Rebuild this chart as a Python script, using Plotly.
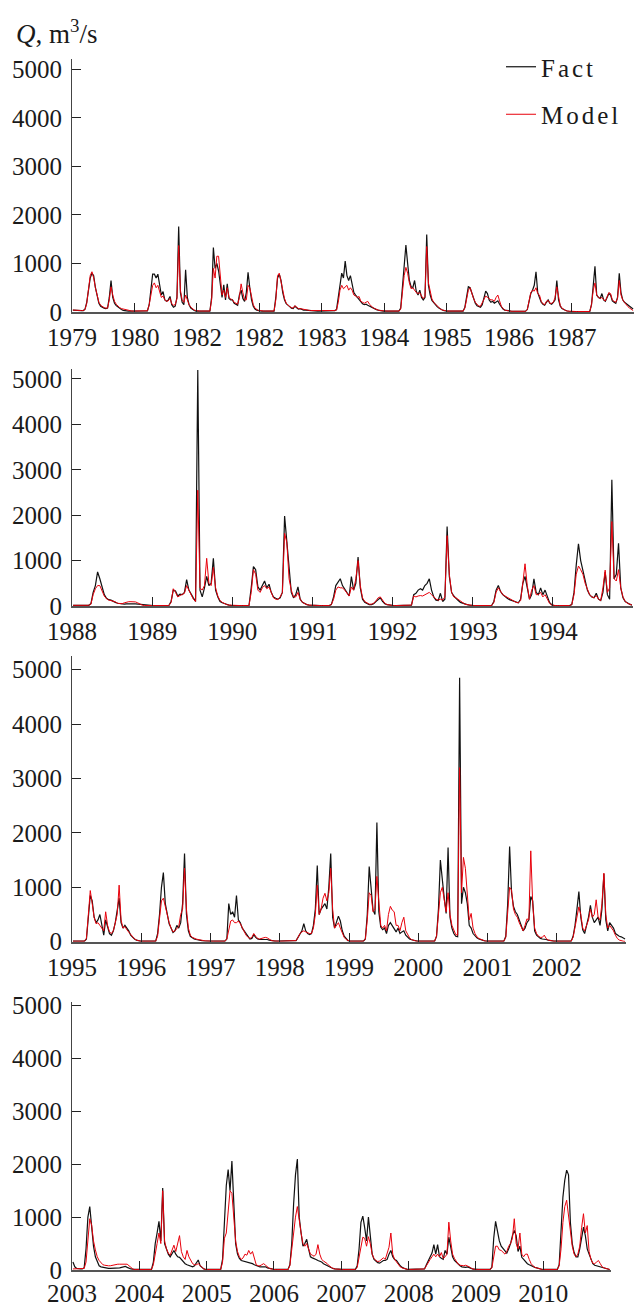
import plotly.graph_objects as go

# ---------------- data: dekadal (36 per year) discharge, m3/s ----------------
fact_1979 = [40,35,30,30,30,30,30,60,200,450,700,800,750,500,300,180,120,90,80,70,80,300,650,300,180,130,100,70,50,35,25,20,20,20,20,20]
model_1979 = [40,35,30,30,30,30,30,50,180,450,750,830,700,500,320,200,140,110,90,80,80,250,520,350,220,160,120,90,70,60,50,40,30,25,20,20]
fact_1980 = [20,20,20,20,20,20,20,25,150,450,780,780,700,780,600,350,420,250,220,250,320,150,100,120,300,1760,400,200,150,870,300,150,80,50,30,20]
model_1980 = [20,20,20,20,20,20,20,25,150,400,550,600,500,550,420,300,330,250,220,230,280,170,140,150,280,1370,450,250,200,350,250,150,100,60,40,30]
fact_1981 = [20,20,20,20,20,20,20,20,300,1330,900,1000,850,600,300,560,250,580,280,250,250,180,150,140,350,450,280,220,400,820,500,250,120,60,40,25]
model_1981 = [20,20,20,20,20,20,20,20,250,900,700,1150,1150,650,350,450,300,500,300,270,250,200,170,160,300,580,400,250,250,550,500,300,150,80,50,30]
fact_1982 = [25,20,20,20,20,20,20,20,20,300,700,780,650,400,250,170,130,110,80,70,120,80,60,70,50,40,40,35,30,30,25,25,20,20,20,20]
model_1982 = [30,20,20,20,20,20,20,20,20,250,750,800,620,420,280,180,140,110,90,80,130,90,70,70,60,50,45,40,35,30,30,25,20,20,20,20]
fact_1983 = [20,20,20,20,20,20,20,30,50,300,650,800,700,1050,750,650,750,550,400,350,300,250,200,170,150,160,140,120,100,80,60,50,40,30,25,20]
model_1983 = [20,20,20,20,20,20,20,30,40,200,450,550,480,520,550,450,500,450,350,330,300,320,220,200,180,200,220,160,120,90,70,50,40,30,25,20]
fact_1984 = [20,20,20,20,20,20,20,20,20,80,500,1000,1380,1000,650,520,500,650,420,350,450,300,250,300,1600,550,350,240,190,160,110,80,50,40,30,20]
model_1984 = [20,20,20,20,20,20,20,20,20,60,400,750,920,800,600,480,500,450,400,380,400,330,280,320,1350,600,400,270,200,160,120,90,60,40,30,20]
fact_1985 = [20,20,20,20,20,20,20,20,20,20,100,350,520,500,380,250,180,130,110,100,150,280,430,380,250,200,220,180,200,230,160,100,60,40,30,20]
model_1985 = [20,20,20,20,20,20,20,20,20,20,80,300,450,500,380,280,200,150,120,120,200,260,330,300,280,250,250,220,300,350,230,120,70,40,30,20]
fact_1986 = [15,15,15,15,15,15,15,15,15,15,50,200,380,450,550,830,400,300,200,160,140,200,250,180,160,200,250,650,250,120,70,50,30,20,15,10]
model_1986 = [15,15,15,15,15,15,15,15,15,15,50,220,400,450,430,500,380,350,220,170,150,220,240,180,180,200,300,520,280,130,80,50,30,20,15,10]
fact_1987 = [10,10,10,10,10,10,10,10,10,10,10,150,600,940,350,300,280,380,250,220,300,380,350,230,200,180,300,800,400,250,200,170,140,110,90,60]
model_1987 = [10,10,10,10,10,10,10,10,10,10,10,150,450,600,350,300,280,300,250,230,320,400,380,250,220,200,280,650,350,250,200,150,110,80,50,30]

fact_1988 = [15,15,15,15,15,15,15,15,50,300,450,750,600,400,250,170,140,130,100,80,60,50,40,40,45,50,50,50,45,40,30,20,15,15,15,15]
model_1988 = [15,15,15,15,15,15,15,15,40,250,380,450,450,350,220,160,130,120,110,90,60,50,50,70,90,95,95,95,90,70,40,20,10,10,10,10]
fact_1989 = [10,10,10,10,10,10,10,10,100,350,330,220,260,250,300,580,350,250,180,100,5200,350,200,400,650,450,500,1050,350,200,100,70,50,30,20,15]
model_1989 = [10,10,10,10,10,10,10,10,80,380,300,200,230,250,280,450,350,250,150,100,2550,400,350,450,1050,500,450,850,400,220,120,80,50,30,20,15]
fact_1990 = [10,10,10,10,10,10,10,10,400,870,800,420,350,450,550,400,480,300,200,170,150,180,300,1980,1400,700,300,180,250,420,150,80,50,30,20,15]
model_1990 = [10,10,10,10,10,10,10,10,300,800,700,350,300,400,450,380,420,280,180,150,140,200,300,1600,1400,600,350,200,200,300,150,80,50,30,20,15]
fact_1991 = [10,10,10,10,10,10,10,10,30,200,450,530,600,450,380,300,220,650,350,500,1080,400,150,80,50,30,30,50,100,150,180,100,50,30,20,15]
model_1991 = [10,10,10,10,10,10,10,10,30,150,350,420,400,400,350,280,220,420,350,600,1000,450,180,100,60,40,40,60,110,180,200,120,60,30,20,15]
fact_1992 = [10,10,10,10,10,10,10,10,20,250,280,350,380,350,450,500,600,350,200,130,120,280,100,150,1750,650,300,220,160,120,80,60,40,30,20,10]
model_1992 = [10,10,10,10,10,10,10,10,20,220,200,220,230,220,250,280,300,250,200,150,130,150,130,200,1550,700,300,200,180,140,100,60,40,30,20,10]
fact_1993 = [10,10,10,10,10,10,10,10,10,100,350,450,320,250,200,170,140,120,100,80,70,150,500,650,350,150,250,600,300,250,400,250,350,200,80,30]
model_1993 = [10,10,10,10,10,10,10,10,10,80,300,400,330,250,220,190,160,130,100,80,70,120,500,930,450,150,350,450,250,250,300,200,250,150,60,20]
fact_1994 = [10,10,10,10,10,10,10,10,30,300,900,1370,1000,800,550,350,250,200,180,280,150,120,300,750,250,150,2780,600,700,1380,400,180,100,60,40,20]
model_1994 = [10,10,10,10,10,10,10,10,30,250,700,880,800,700,500,350,250,200,180,230,150,120,400,790,300,400,1860,600,550,800,400,200,100,60,40,20]

fact_1995 = [10,10,10,10,10,10,10,50,400,850,750,450,350,400,500,300,120,400,250,150,120,200,350,600,800,350,250,300,250,200,120,80,50,30,15,10]
model_1995 = [10,10,10,10,10,10,10,60,500,940,700,450,330,350,300,250,200,550,300,180,150,200,350,500,1040,400,250,280,220,180,120,80,50,30,15,10]
fact_1996 = [10,10,10,10,10,10,10,10,150,500,1000,1270,700,480,330,250,170,200,300,250,350,700,1620,500,200,100,70,50,40,30,25,20,15,10,10,10]
model_1996 = [10,10,10,10,10,10,10,10,100,400,750,800,650,480,350,250,180,200,250,280,500,600,1350,600,250,120,80,60,50,40,30,25,20,15,10,10]
fact_1997 = [10,10,10,10,10,10,10,10,50,700,500,550,450,850,400,350,250,200,130,80,50,60,130,80,50,40,40,40,50,40,30,20,15,10,10,10]
model_1997 = [10,10,10,10,10,10,10,10,50,250,380,400,350,350,380,330,250,180,120,80,60,80,150,100,60,50,60,70,80,70,40,25,15,10,10,10]
fact_1998 = [10,10,10,10,10,10,10,10,20,80,150,200,330,200,150,130,150,300,600,1400,500,600,650,700,600,1000,1620,450,250,380,470,380,200,100,50,20]
model_1998 = [10,10,10,10,10,10,10,10,20,80,150,180,200,180,160,150,150,250,500,1040,500,600,800,890,750,900,1350,600,250,300,350,250,150,80,40,20]
fact_1999 = [10,10,10,10,10,10,10,10,50,500,1380,950,580,500,2190,550,270,220,250,150,300,350,300,250,180,250,150,180,200,120,80,50,35,25,15,10]
model_1999 = [10,10,10,10,10,10,10,10,50,400,900,850,550,600,1200,650,300,250,300,200,500,650,580,550,300,300,200,350,450,200,120,70,40,25,15,10]
fact_2000 = [10,10,10,10,10,10,10,10,10,100,600,1500,1100,800,520,1730,450,250,150,100,90,4850,700,1000,900,700,300,250,150,100,70,50,35,25,15,10]
model_2000 = [10,10,10,10,10,10,10,10,10,100,500,900,1000,800,550,900,500,300,200,130,120,3200,900,1550,1350,900,400,520,250,150,90,60,40,25,15,10]
fact_2001 = [10,10,10,10,10,10,10,10,10,100,700,1750,900,650,550,500,400,300,200,250,350,400,830,750,200,120,80,60,50,50,40,30,20,15,10,10]
model_2001 = [10,10,10,10,10,10,10,10,10,80,500,1000,950,600,500,450,350,280,200,300,420,400,1670,700,250,150,100,80,80,120,60,30,20,15,10,10]
fact_2002 = [10,10,10,10,10,10,10,10,100,300,600,920,450,220,150,300,450,670,450,350,400,450,300,600,1250,400,200,350,300,250,150,120,100,90,70,50]
model_2002 = [10,10,10,10,10,10,10,10,80,250,450,640,500,250,200,300,400,600,450,500,770,450,400,700,1260,500,250,300,250,200,120,60,30,15,10,5]

fact_2003 = [150,60,30,20,20,20,40,400,1000,1200,800,450,250,150,80,60,50,40,35,30,30,30,30,30,30,40,50,60,70,50,30,20,15,10,10,10]
model_2003 = [20,20,20,20,20,20,30,150,500,970,850,550,380,250,180,130,100,90,80,80,80,90,100,100,110,110,110,100,100,110,80,40,20,10,10,10]
fact_2004 = [10,10,10,10,10,10,10,150,500,700,920,550,1550,500,380,300,250,300,370,300,250,240,200,150,120,100,90,80,60,80,150,190,80,40,20,10]
model_2004 = [10,10,10,10,10,10,10,100,350,500,700,500,1500,550,400,320,280,400,470,350,500,650,350,250,200,370,250,180,120,100,100,120,80,40,20,10]
fact_2005 = [10,10,10,10,10,10,10,10,200,1000,1600,1900,1500,2060,1200,500,300,220,180,170,160,150,150,130,120,100,80,70,60,60,70,60,40,30,20,10]
model_2005 = [10,10,10,10,10,10,10,10,150,600,700,1200,1500,1450,1000,550,350,250,200,230,300,280,370,300,350,200,100,80,80,100,120,90,50,30,20,10]
fact_2006 = [10,10,10,10,10,10,10,10,100,500,1250,1800,2100,1000,700,450,500,580,400,250,230,220,200,180,170,150,120,100,80,60,40,30,20,15,10,10]
model_2006 = [10,10,10,10,10,10,10,10,80,400,800,1000,1200,900,700,500,450,500,400,300,280,260,300,480,300,200,170,150,120,80,50,30,20,15,10,10]
fact_2007 = [10,10,10,10,10,10,10,10,80,400,900,1020,800,550,1000,650,300,200,160,140,130,150,180,180,200,300,370,250,200,180,120,80,50,30,20,10]
model_2007 = [10,10,10,10,10,10,10,10,50,250,500,620,600,450,630,500,300,220,180,160,170,210,230,200,300,430,700,300,200,150,100,60,40,25,15,10]
fact_2008 = [10,10,10,10,10,10,10,10,20,100,180,250,320,480,300,480,250,220,200,370,300,620,400,250,180,140,100,80,60,50,50,60,50,30,15,10]
model_2008 = [10,10,10,10,10,10,10,10,20,80,150,200,250,300,250,300,250,330,220,250,300,905,550,300,220,150,110,90,80,80,90,80,60,30,15,10]
fact_2009 = [10,10,10,10,10,10,10,10,50,600,920,700,550,450,400,350,320,400,500,650,750,650,350,450,240,200,150,120,100,80,60,50,40,30,15,10]
model_2009 = [10,10,10,10,10,10,10,10,40,250,450,450,380,370,330,300,350,450,500,600,970,500,400,700,300,250,300,300,200,120,80,50,40,30,15,10]
fact_2010 = [10,10,10,10,10,10,10,10,100,700,1380,1700,1890,1800,900,500,330,250,250,400,600,810,650,400,300,200,120,90,80,70,50,40,30,20,15,10]
model_2010 = [10,10,10,10,10,10,10,10,80,400,900,1200,1320,1000,700,450,300,250,300,450,800,1065,700,840,350,200,130,120,150,180,120,60,40,30,15,10]

years_panel1 = [1979, 1980, 1981, 1982, 1983, 1984, 1985, 1986, 1987]
years_panel2 = [1988, 1989, 1990, 1991, 1992, 1993, 1994]
years_panel3 = [1995, 1996, 1997, 1998, 1999, 2000, 2001, 2002]
years_panel4 = [2003, 2004, 2005, 2006, 2007, 2008, 2009, 2010]

labels_panel1 = ["1979", "1980", "1982", "1982", "1983", "1984", "1985", "1986", "1987"]
labels_panel2 = ["1988", "1989", "1990", "1991", "1992", "1993", "1994"]
labels_panel3 = ["1995", "1996", "1997", "1998", "1999", "2000", "2001", "2002"]
labels_panel4 = ["2003", "2004", "2005", "2006", "2007", "2008", "2009", "2010"]

y_ticks = [0, 1000, 2000, 3000, 4000, 5000]
y_tick_labels = ["0", "1000", "2000", "3000", "4000", "5000"]

# ---------------- layout geometry (px in a 634x1307 page) ----------------
W, H = 634, 1307
panels = [
    dict(years=years_panel1, labels=labels_panel1, xr=(72, 634), yb=312.0, yt=59.3, top=5210, standoff=2),
    dict(years=years_panel2, labels=labels_panel2, xr=(72, 633), yb=606.0, yt=369.3, top=5213, standoff=2),
    dict(years=years_panel3, labels=labels_panel3, xr=(72, 626), yb=941.7, yt=656.0, top=5252, standoff=2),
    dict(years=years_panel4, labels=labels_panel4, xr=(72, 610.6), yb=1270.0, yt=1001.7, top=5076, standoff=0),
]

g = globals()
FONT = "Liberation Serif"
fig = go.Figure()
layout = {}
for k, p in enumerate(panels):
    xs, yf, ym = [], [], []
    for yr in p["years"]:
        f = g[f"fact_{yr}"]
        m = g[f"model_{yr}"]
        n = len(f)
        for i in range(n):
            xs.append(yr + (i + 0.5) / n)
            yf.append(f[i])
            ym.append(m[i])
    xa = "x" if k == 0 else f"x{k+1}"
    ya = "y" if k == 0 else f"y{k+1}"
    fig.add_trace(go.Scatter(x=xs, y=yf, mode="lines", name="Fact",
                             line=dict(color="#111111", width=1.2),
                             xaxis=xa, yaxis=ya, showlegend=(k == 0), legendgroup="fact"))
    fig.add_trace(go.Scatter(x=xs, y=ym, mode="lines", name="Model",
                             line=dict(color="#e8000b", width=1.0),
                             xaxis=xa, yaxis=ya, showlegend=(k == 0), legendgroup="model"))
    y0 = p["years"][0]
    y1 = p["years"][-1] + 1
    xname = "xaxis" if k == 0 else f"xaxis{k+1}"
    yname = "yaxis" if k == 0 else f"yaxis{k+1}"
    layout[xname] = dict(
        domain=[p["xr"][0] / W, p["xr"][1] / W], range=[y0, y1],
        tickmode="array", tickvals=list(range(y0, y1 + 1)), ticktext=p["labels"] + [" "],
        ticks="inside", ticklen=9, tickwidth=1.2, tickcolor="#222",
        showline=True, linecolor="#555", linewidth=2, showgrid=False, zeroline=False,
        tickfont=dict(family=FONT, size=25, color="#1a1a1a"), anchor=ya,
        ticklabelstandoff=p["standoff"], automargin=False,
    )
    layout[yname] = dict(
        domain=[1 - p["yb"] / H, 1 - p["yt"] / H], range=[0, p["top"]],
        tickmode="array", tickvals=y_ticks, ticktext=y_tick_labels,
        ticks="inside", ticklen=9, tickwidth=1.2, tickcolor="#222",
        showline=True, linecolor="#444", linewidth=1.2, showgrid=False, zeroline=False,
        tickfont=dict(family=FONT, size=25, color="#1a1a1a"), anchor=xa,
        ticklabelstandoff=4, automargin=False,
    )

fig.update_layout(
    width=W, height=H, margin=dict(l=0, r=0, t=0, b=0),
    paper_bgcolor="white", plot_bgcolor="white",
    font=dict(family=FONT, size=24, color="#1a1a1a"),
    legend=dict(x=501 / W, y=1 - 44 / H, xanchor="left", yanchor="top",
                bgcolor="rgba(0,0,0,0)", font=dict(family=FONT, size=25, color="#1a1a1a"),
                tracegroupgap=12, itemwidth=30),
    annotations=[dict(text="<i>Q</i>, m<sup>3</sup>/s", xref="paper", yref="paper",
                      x=14 / W, y=1 - 32 / H, xanchor="left", yanchor="middle",
                      showarrow=False, font=dict(family=FONT, size=27, color="#1a1a1a"))],
    **layout,
)

post_js = (
    "document.body.style.margin='0';"
    "document.body.style.overflow='hidden';"
    "document.querySelectorAll('.legend [clip-path]').forEach(function(e){e.removeAttribute('clip-path');});"
    "document.querySelectorAll('.legendtext').forEach(function(e){e.style.letterSpacing='3px';});"
)
fig.write_html("out.html", post_script=post_js, config={"displayModeBar": False})
